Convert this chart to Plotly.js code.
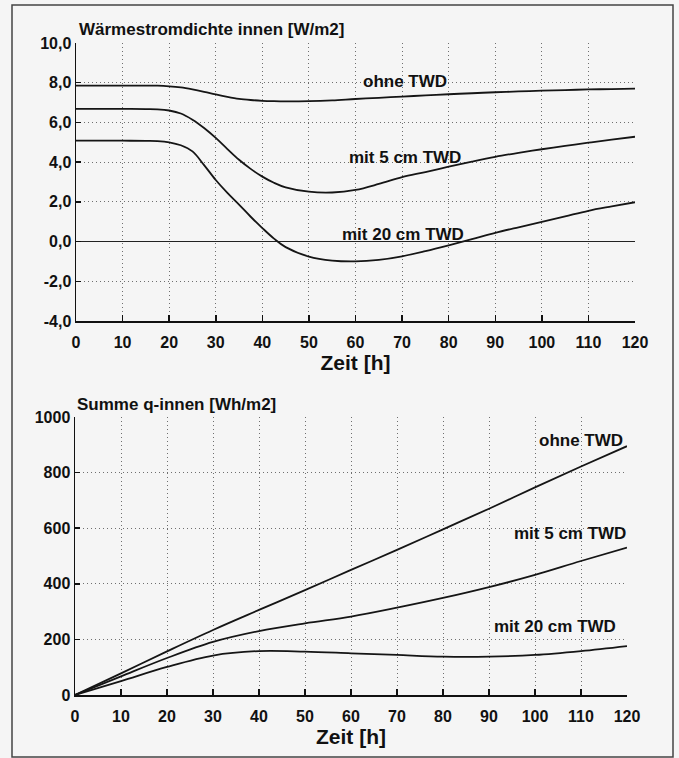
<!DOCTYPE html>
<html>
<head>
<meta charset="utf-8">
<script src="https://cdn.plot.ly/plotly-3.0.1.min.js"></script>
<style>html,body{margin:0;padding:0;background:#f5f5f5;}#chart{width:679px;height:758px;}</style>
</head>
<body>
<div id="chart"></div>
<script>
// ---- Data ----
const hoursTop = [0,5,10,15,17.5,20,22.5,25,27.5,30,32.5,35,37.5,40,42.5,45,50,55,60,65,70,75,80,85,90,95,100,105,110,115,120];
const qOhne   = [7.85,7.85,7.85,7.85,7.85,7.82,7.76,7.66,7.54,7.41,7.29,7.19,7.13,7.09,7.07,7.06,7.07,7.11,7.18,7.24,7.30,7.36,7.42,7.47,7.52,7.56,7.60,7.63,7.66,7.68,7.70];
const q5cm    = [6.68,6.68,6.68,6.67,6.66,6.60,6.45,6.14,5.72,5.22,4.66,4.12,3.66,3.27,2.96,2.73,2.51,2.47,2.60,2.90,3.25,3.50,3.77,4.03,4.27,4.47,4.65,4.82,4.98,5.13,5.28];
const q20cm   = [5.08,5.08,5.08,5.07,5.06,5.00,4.85,4.54,3.85,3.10,2.45,1.86,1.25,0.68,0.15,-0.28,-0.76,-0.96,-1.00,-0.92,-0.74,-0.48,-0.19,0.12,0.44,0.72,0.99,1.27,1.55,1.77,1.98];

const hoursBot = [0,10,20,30,40,50,60,70,80,90,100,110,120];
const sumOhne  = [0,78,157,234,306,377,450,522,596,670,747,822,895];
const sum5cm   = [0,67,133,191,230,258,282,314,349,388,432,482,530];
const sum20cm  = [0,50,101,142,158,156,150,144,138,138,144,158,176];

const seriesNames = ["ohne TWD","mit 5 cm TWD","mit 20 cm TWD"];
const xTicks = [0,10,20,30,40,50,60,70,80,90,100,110,120];
const yTopTicks = [-4,-2,0,2,4,6,8,10];
const yTopLabels = ["-4,0","-2,0","0,0","2,0","4,0","6,0","8,0","10,0"];
const yBotTicks = [0,200,400,600,800,1000];
const yBotLabels = ["0","200","400","600","800","1000"];

// ---- Styling ----
const FAM = "Liberation Sans, Arial, sans-serif";
const BG = "#f5f5f5";
const GRID = {showgrid:true, gridcolor:"#6f6f6f", griddash:"1px,3px", gridwidth:1};
const lineStyle = {color:"#151515", width:1.8, shape:"spline", smoothing:1};

const traces = [
  {x:hoursTop, y:qOhne, xaxis:"x", yaxis:"y", name:seriesNames[0]},
  {x:hoursTop, y:q5cm, xaxis:"x", yaxis:"y", name:seriesNames[1]},
  {x:hoursTop, y:q20cm, xaxis:"x", yaxis:"y", name:seriesNames[2]},
  {x:hoursBot, y:sumOhne, xaxis:"x2", yaxis:"y2", name:seriesNames[0]},
  {x:hoursBot, y:sum5cm, xaxis:"x2", yaxis:"y2", name:seriesNames[1]},
  {x:hoursBot, y:sum20cm, xaxis:"x2", yaxis:"y2", name:seriesNames[2]}
].map(t => Object.assign(t, {type:"scatter", mode:"lines", line:lineStyle, hoverinfo:"x+y"}));

const tickFont = {family:FAM, size:16, weight:"bold", color:"#111"};
function xAxis(domain, anchor){
  return Object.assign({
    domain:domain, anchor:anchor, range:[0,120], tickvals:xTicks,
    ticks:"inside", ticklen:6, tickwidth:1.5, tickcolor:"#111",
    showline:true, linecolor:"#111", linewidth:1.5,
    zeroline:false, tickfont:tickFont, automargin:false, ticklabelstandoff:6,
    title:{text:"Zeit [h]", font:{family:FAM, size:21, weight:"bold", color:"#111"}, standoff:5}
  }, GRID);
}
function yAxis(domain, anchor, range, vals, labels, zero){
  return Object.assign({
    domain:domain, anchor:anchor, range:range, tickvals:vals, ticktext:labels,
    ticks:"inside", ticklen:5, tickwidth:1.5, tickcolor:"#111",
    showline:true, linecolor:"#111", linewidth:1.5,
    zeroline:zero, zerolinecolor:"#222", zerolinewidth:1.5,
    tickfont:tickFont, automargin:false
  }, GRID);
}

const W = 679, H = 758;
const px = v => v / W, py = v => 1 - v / H;

const labelFont = {family:FAM, size:17, weight:"bold", color:"#111"};
const annotations = [
  {xref:"paper", yref:"paper", x:px(77), y:py(29), xanchor:"left", yanchor:"middle", showarrow:false,
   text:"Wärmestromdichte innen [W/m2]", font:labelFont},
  {xref:"paper", yref:"paper", x:px(75), y:py(404), xanchor:"left", yanchor:"middle", showarrow:false,
   text:"Summe q-innen [Wh/m2]", font:labelFont},
  {xref:"x", yref:"y", x:70.6, y:8.04, text:seriesNames[0], showarrow:false, font:labelFont},
  {xref:"x", yref:"y", x:70.6, y:4.25, text:seriesNames[1], showarrow:false, font:labelFont},
  {xref:"x", yref:"y", x:70.3, y:0.34, text:seriesNames[2], showarrow:false, font:labelFont},
  {xref:"x2", yref:"y2", x:109.9, y:914, text:seriesNames[0], showarrow:false, font:labelFont},
  {xref:"x2", yref:"y2", x:107.5, y:581, text:seriesNames[1], showarrow:false, font:labelFont},
  {xref:"x2", yref:"y2", x:104.3, y:248, text:seriesNames[2], showarrow:false, font:labelFont}
];

const layout = {
  width:W, height:H, margin:{l:0,r:0,t:0,b:0},
  paper_bgcolor:BG, plot_bgcolor:BG, showlegend:false,
  font:{family:FAM, color:"#111"},
  xaxis: xAxis([px(76), px(635)], "y"),
  yaxis: yAxis([py(321), py(43)], "x", [-4,10], yTopTicks, yTopLabels, true),
  xaxis2: xAxis([px(75), px(627)], "y2"),
  yaxis2: yAxis([py(695), py(417)], "x2", [0,1000], yBotTicks, yBotLabels, false),
  annotations: annotations,
  shapes:[{type:"rect", xref:"paper", yref:"paper", x0:px(12), x1:px(673), y0:py(757), y1:py(5),
           line:{color:"#444", width:1.5}, fillcolor:"rgba(0,0,0,0)", layer:"below"}]
};

Plotly.newPlot("chart", traces, layout, {displayModeBar:false, staticPlot:true});
</script>
</body>
</html>
